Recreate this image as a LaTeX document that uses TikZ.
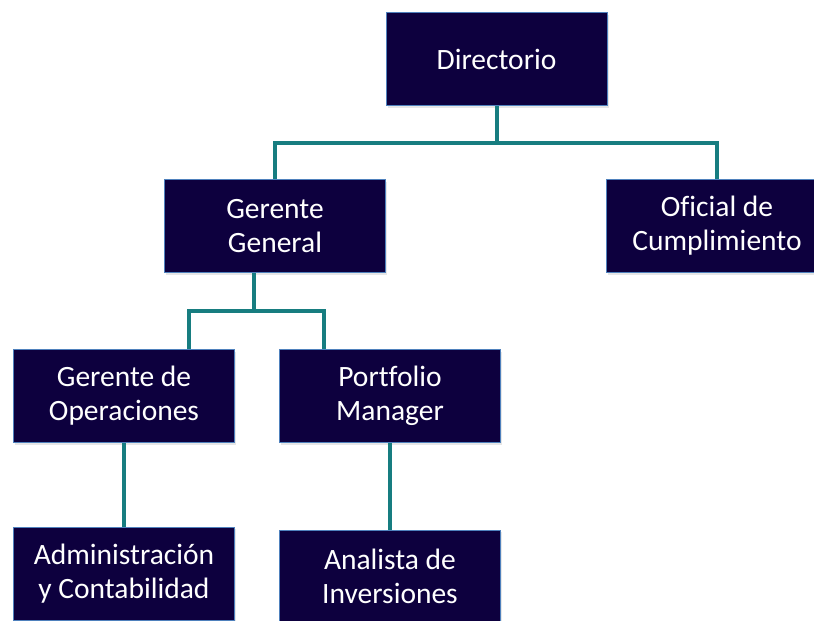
\documentclass[tikz,border=0pt]{standalone}
\usepackage{fontspec}
\setmainfont{Carlito}[Ligatures=CommonOff]
\usepackage{tikz}
\usetikzlibrary{positioning,shadows}
\usepackage{xcolor}
\definecolor{orgnavy}{RGB}{13,0,62}
\definecolor{orgedge}{RGB}{79,129,189}
\definecolor{orgteal}{RGB}{23,125,128}
\tikzstyle{post} = [rectangle, minimum width=221pt, minimum height=93pt, align=center, text=white, draw=orgedge, fill=orgnavy, line width=0.8pt, font=\fontsize{29.5}{34}\selectfont, drop shadow={opacity=0.2, shadow xshift=1.5pt, shadow yshift=-2pt}]
\tikzstyle{link} = [line width=4pt, color=orgteal]

\begin{document}
\begin{tikzpicture}
\useasboundingbox (0,0) rectangle (814pt,-621pt);
\node (directorio) [post] at (496.5pt,-59pt) {Directorio};
\node (gerente) [post, node distance=167pt, below of=directorio, xshift=-221.5pt] {Gerente\\General};
\node (oficial) [post, node distance=442pt, right of=gerente] {Oficial de\\Cumplimiento};
\node (operaciones) [post, node distance=170pt, below of=gerente, xshift=-151pt] {Gerente de\\Operaciones};
\node (portfolio) [post, node distance=266pt, right of=operaciones] {Portfolio\\Manager};
\node (admin) [post, node distance=177.5pt, below of=operaciones] {Administración\\y Contabilidad};
\node (analista) [post, node distance=180.5pt, below of=portfolio] {Analista de\\Inversiones};
% lines
\coordinate (dirjoin) at ([yshift=-37pt]directorio.south);
\coordinate (gerjoin) at ([xshift=-21pt, yshift=-38pt]gerente.south);
\draw [link] (directorio.south) -- (dirjoin) -| (gerente.north);
\draw [link] (dirjoin) -| (oficial.north);
\draw [link] ([xshift=-21pt]gerente.south) -- (gerjoin) -| ([xshift=65pt]operaciones.north);
\draw [link] (gerjoin) -| ([xshift=-66pt]portfolio.north);
\draw [link] (operaciones) -- (admin);
\draw [link] (portfolio) -- (analista);
\end{tikzpicture}
\end{document}
